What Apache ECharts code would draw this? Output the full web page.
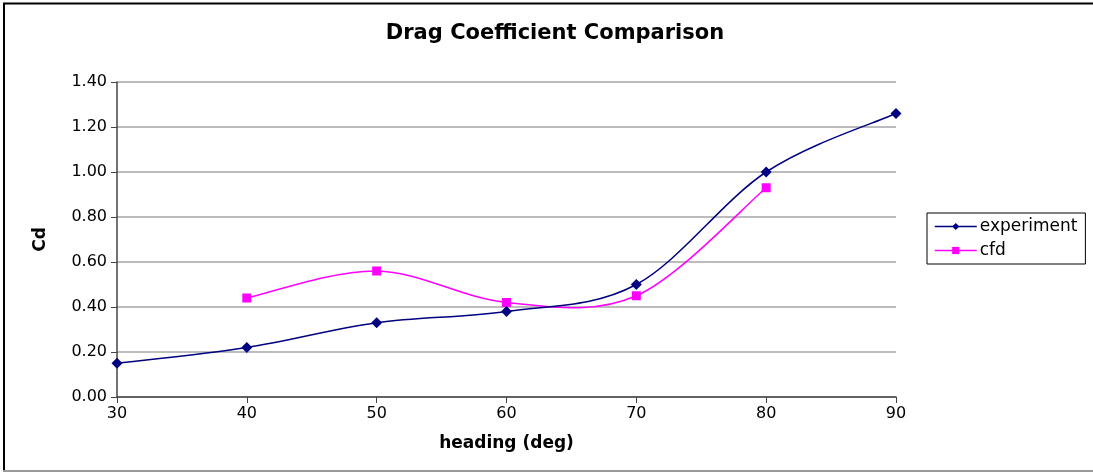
<!DOCTYPE html>
<html>
<head>
<meta charset="utf-8">
<script src="https://cdn.jsdelivr.net/npm/echarts@6/dist/echarts.min.js"></script>
<style>
  html, body { margin: 0; padding: 0; background: #fff; }
  #chart { width: 1093px; height: 472px; }
</style>
</head>
<body>
<div id="chart"></div>
<script>
// Heading angles (deg) and measured / simulated drag coefficients
const headings = [30, 40, 50, 60, 70, 80, 90];
const experiment = [0.15, 0.22, 0.33, 0.38, 0.50, 1.00, 1.26];
const cfdHeadings = [40, 50, 60, 70, 80];
const cfd = [0.44, 0.56, 0.42, 0.45, 0.93];

const FONT = 'DejaVu Sans';
const NAVY = '#000080';
const MAGENTA = '#ff00ff';

const expPoints = headings.map((h, i) => [h, experiment[i]]);
const cfdPoints = cfdHeadings.map((h, i) => [h, cfd[i]]);

// Cardinal (Catmull-Rom) spline through pixel points, as an SVG path string
function splinePath(px) {
  let d = 'M' + px[0][0] + ' ' + px[0][1];
  for (let i = 0; i < px.length - 1; i++) {
    const p0 = px[i - 1] || px[i];
    const p1 = px[i];
    const p2 = px[i + 1];
    const p3 = px[i + 2] || px[i + 1];
    const c1x = p1[0] + (p2[0] - p0[0]) / 6;
    const c1y = p1[1] + (p2[1] - p0[1]) / 6;
    const c2x = p2[0] - (p3[0] - p1[0]) / 6;
    const c2y = p2[1] - (p3[1] - p1[1]) / 6;
    d += ' C' + c1x + ' ' + c1y + ' ' + c2x + ' ' + c2y + ' ' + p2[0] + ' ' + p2[1];
  }
  return d;
}

// Custom series that draws one smoothed curve through all points of a series
function curveSeries(points, color) {
  return {
    type: 'custom',
    data: points,
    silent: true,
    z: 1,
    renderItem: function (params, api) {
      if (params.dataIndex !== 0) return null;
      const px = points.map(p => api.coord(p));
      return {
        type: 'path',
        shape: { pathData: splinePath(px) },
        style: { fill: 'none', stroke: color, lineWidth: 1.5 }
      };
    }
  };
}

const chart = echarts.init(document.getElementById('chart'), null, { renderer: 'canvas' });

chart.setOption({
  animation: false,
  backgroundColor: '#fff',
  title: {
    text: 'Drag Coefficient Comparison',
    left: 550,
    textAlign: 'center',
    top: 18,
    textStyle: { fontFamily: FONT, fontSize: 21, fontWeight: 'bold', color: '#000' }
  },
  grid: { left: 117, right: 197, top: 82, bottom: 75 },
  legend: {
    orient: 'vertical',
    left: 927,
    top: 213,
    itemWidth: 42,
    itemHeight: 9,
    itemGap: 7,
    padding: [5, 8, 5, 7],
    borderColor: '#000',
    borderWidth: 1,
    lineStyle: { opacity: 1, width: 1.5 },
    textStyle: { fontFamily: FONT, fontSize: 17, color: '#000', padding: [0, 0, 0, -2] },
    data: ['experiment', 'cfd']
  },
  xAxis: {
    type: 'value',
    min: 30, max: 90, interval: 10,
    name: 'heading (deg)',
    nameLocation: 'middle',
    nameGap: 38,
    nameTextStyle: { fontFamily: FONT, fontSize: 17, fontWeight: 'bold', color: '#000' },
    axisLine: { show: true, onZero: false, lineStyle: { color: '#444', width: 1.5 } },
    axisTick: { show: true, length: 6, inside: false, lineStyle: { color: '#444' } },
    axisLabel: { fontFamily: FONT, fontSize: 16, color: '#000', margin: 9 },
    splitLine: { show: false }
  },
  yAxis: {
    type: 'value',
    min: 0, max: 1.4, interval: 0.2,
    name: 'Cd',
    nameLocation: 'middle',
    nameGap: 68,
    nameRotate: 90,
    nameTextStyle: { fontFamily: FONT, fontSize: 17, fontWeight: 'bold', color: '#000' },
    axisLine: { show: true, lineStyle: { color: '#444', width: 1.5 } },
    axisTick: { show: true, length: 6, lineStyle: { color: '#444' } },
    axisLabel: {
      fontFamily: FONT, fontSize: 16, color: '#000', margin: 10,
      formatter: v => v.toFixed(2)
    },
    splitLine: { show: true, lineStyle: { color: '#a6a6a6', width: 1.5 } }
  },
  series: [
    {
      name: 'experiment',
      type: 'line',
      data: expPoints,
      symbol: 'diamond',
      symbolSize: 11,
      showAllSymbol: true,
      lineStyle: { color: NAVY, width: 1.5, opacity: 0 },
      itemStyle: { color: NAVY },
      z: 3
    },
    {
      name: 'cfd',
      type: 'line',
      data: cfdPoints,
      symbol: 'rect',
      symbolSize: 9,
      showAllSymbol: true,
      lineStyle: { color: MAGENTA, width: 1.5, opacity: 0 },
      itemStyle: { color: MAGENTA },
      z: 2
    },
    curveSeries(cfdPoints, MAGENTA),
    curveSeries(expPoints, NAVY)
  ],
  graphic: [
    // frame edges around the chart
    { type: 'line', shape: { x1: 3, y1: 3.5, x2: 1093, y2: 3.5 }, style: { stroke: '#000', lineWidth: 2 } },
    { type: 'line', shape: { x1: 4, y1: 3, x2: 4, y2: 471 }, style: { stroke: '#000', lineWidth: 2 } },
    { type: 'line', shape: { x1: 3, y1: 471, x2: 1093, y2: 471 }, style: { stroke: '#999', lineWidth: 2 } }
  ]
});
</script>
</body>
</html>
